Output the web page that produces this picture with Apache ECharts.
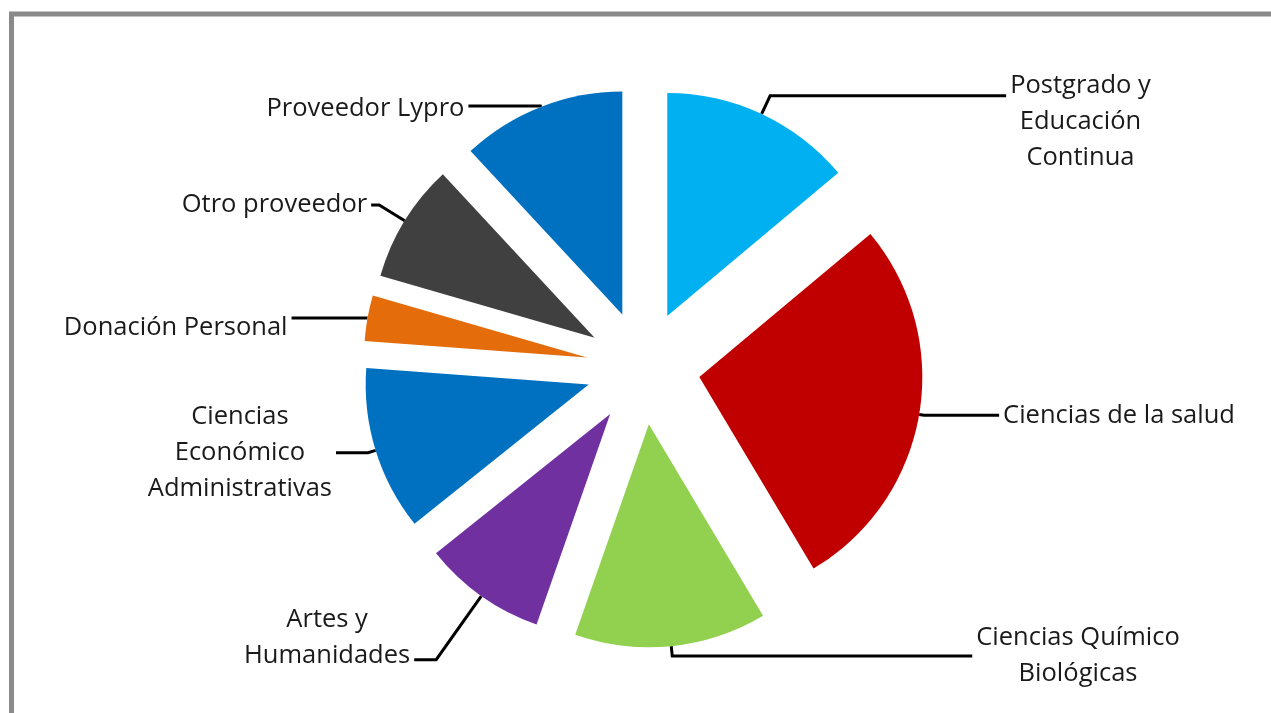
<!DOCTYPE html>
<html>
<head>
<meta charset="utf-8">
<script src="https://cdn.jsdelivr.net/npm/echarts@6/dist/echarts.min.js"></script>
<style>
  html, body { margin: 0; padding: 0; background: #fff; }
  #chart { width: 1271px; height: 713px; }
</style>
</head>
<body>
<div id="chart"></div>
<script>
// ---- data ----
const categories = [
  'Postgrado y\nEducación\nContinua',
  'Ciencias de la salud',
  'Ciencias Químico\nBiológicas',
  'Artes y\nHumanidades',
  'Ciencias\nEconómico\nAdministrativas',
  'Donación Personal',
  'Otro proveedor',
  'Proveedor Lypro'
];
const values = [13.9, 27.5, 13.9, 8.9, 11.9, 3.3, 8.6, 11.9];

// ---- styles ----
const colors = ['#00B0F0', '#C00000', '#92D050', '#7030A0', '#0070C0', '#E46C0A', '#404040', '#0070C0'];
const leadLen  = [20, 5, 10, 78, 8, 1, 30, 1];
const leadLen2 = [236, 75, 300, 22, 32, 75, 8, 72];
const labelPad = [[52, 0, 0, 0], 0, 0, [0, 0, 44, 0], 0, [20, 0, 0, 0], 0, [6, 0, 0, 0]];

const FONT = '"Open Sans", "DejaVu Sans", sans-serif';
const TXT = '#1a1a1a';

const chart = echarts.init(document.getElementById('chart'));
chart.setOption({
  animation: false,
  backgroundColor: '#ffffff',
  graphic: [{
    type: 'rect',
    shape: { x: 11.5, y: 14, width: 1400, height: 900 },
    style: { fill: 'none', stroke: '#8a8a8a', lineWidth: 5 },
    silent: true
  }],
  series: [{
    type: 'pie',
    center: ['50.6%', '51.55%'],
    radius: 223,
    startAngle: 90,
    clockwise: true,
    selectedMode: 'multiple',
    selectedOffset: 57,
    avoidLabelOverlap: false,
    emphasis: { disabled: true },
    itemStyle: { borderWidth: 0 },
    label: {
      show: true,
      position: 'outside',
      color: TXT,
      fontFamily: FONT,
      fontSize: 25.5,
      lineHeight: 36,
      distanceToLabelLine: 4,
      formatter: p => p.name.split('\n').map(s => '{c|' + s + '}').join('\n'),
      rich: {
        c: { align: 'center', color: TXT, fontFamily: FONT, fontSize: 25.5, lineHeight: 36 }
      }
    },
    labelLine: {
      show: true,
      smooth: false,
      lineStyle: { color: '#000000', width: 3 }
    },
    data: categories.map((name, i) => ({
      name: name,
      value: values[i],
      selected: true,
      itemStyle: { color: colors[i] },
      label: { padding: labelPad[i] },
      labelLine: { length: leadLen[i], length2: leadLen2[i] }
    }))
  }]
});
</script>
</body>
</html>
